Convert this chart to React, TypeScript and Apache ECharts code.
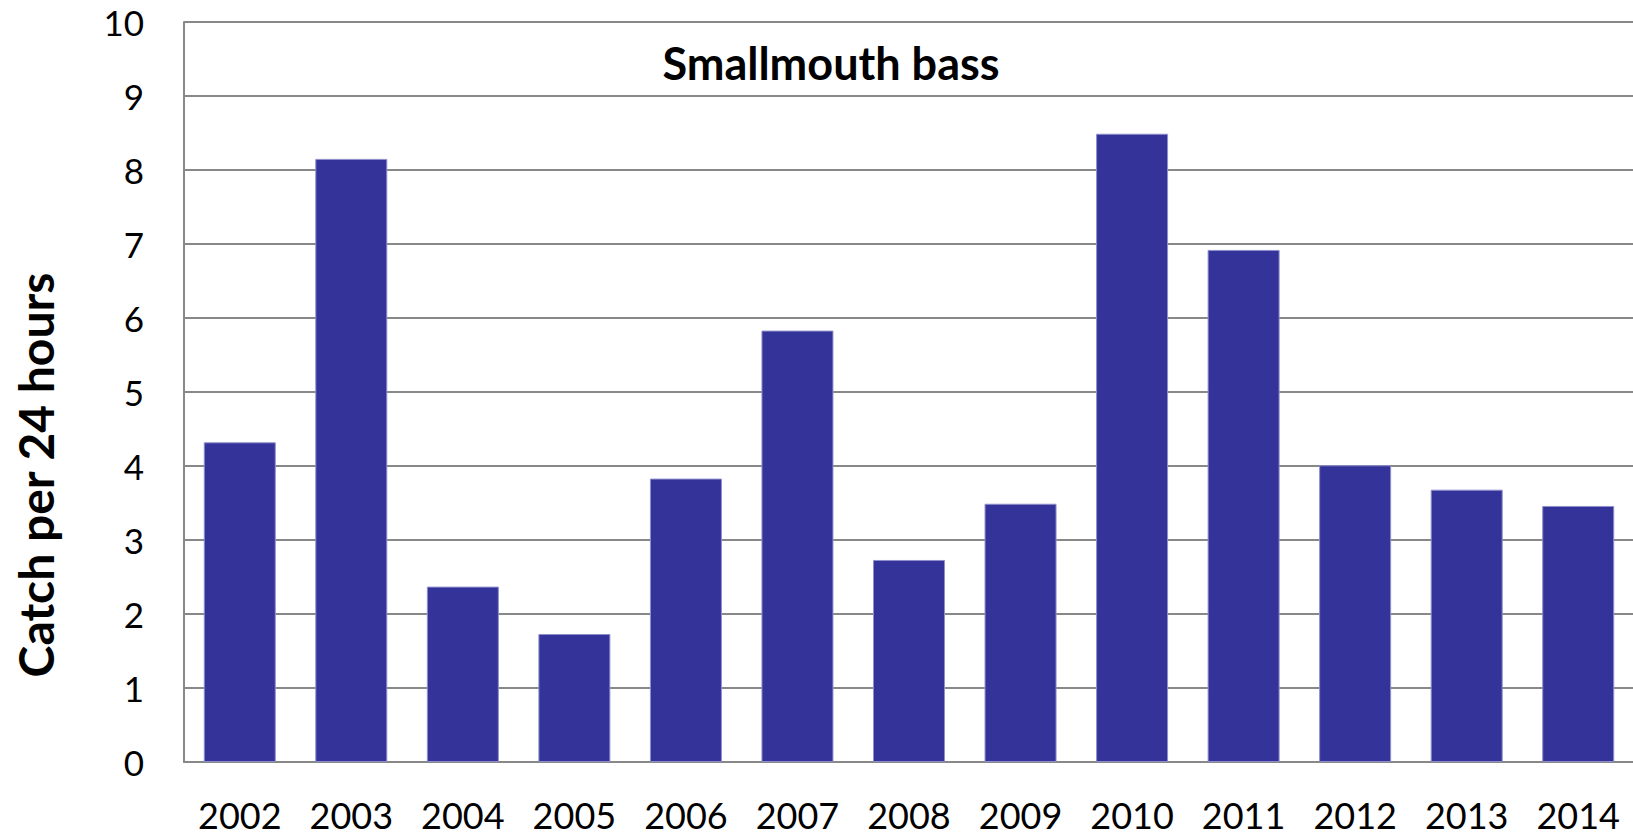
import React, { useEffect, useRef } from "react";
import * as echarts from "echarts";

const years = ["2002", "2003", "2004", "2005", "2006", "2007", "2008", "2009", "2010", "2011", "2012", "2013", "2014"];
const catchPer24h = [4.32, 8.15, 2.37, 1.73, 3.83, 5.83, 2.73, 3.49, 8.49, 6.92, 4.01, 3.68, 3.46];
const yTicks = { min: 0, max: 10, interval: 1 };
const chartTitle = "Smallmouth bass";
const yAxisTitle = "Catch per 24 hours";

const FONT = "Lato, 'Noto Sans', sans-serif";

export default function App() {
  const ref = useRef<HTMLDivElement>(null);
  useEffect(() => {
    document.body.style.margin = "0";
    const chart = echarts.init(ref.current!, null, { renderer: "svg" });
    chart.setOption({
      animation: false,
      backgroundColor: "#ffffff",
      grid: { left: 184, top: 22, width: 1450, height: 740, containLabel: false, outerBoundsMode: "none" },
      graphic: [
        {
          type: "text",
          x: 831,
          y: 62.5,
          style: {
            text: chartTitle,
            font: `bold 45px ${FONT}`,
            fill: "#000",
            textAlign: "center",
            textVerticalAlign: "middle",
          },
          z: 10,
        },
        {
          type: "text",
          x: 35,
          y: 475,
          rotation: Math.PI / 2,
          style: {
            text: yAxisTitle,
            font: `bold 48px ${FONT}`,
            fill: "#000",
            textAlign: "center",
            textVerticalAlign: "middle",
          },
          z: 10,
        },
      ],
      xAxis: {
        type: "category",
        data: years,
        axisLine: { show: true, lineStyle: { color: "#888888", width: 2 } },
        axisTick: { show: false },
        axisLabel: { color: "#000", fontFamily: FONT, fontSize: 36, lineHeight: 28, margin: 39 },
        splitLine: { show: false },
      },
      yAxis: {
        type: "value",
        min: yTicks.min,
        max: yTicks.max,
        interval: yTicks.interval,
        axisLine: { show: true, lineStyle: { color: "#888888", width: 2 } },
        axisTick: { show: false },
        axisLabel: { color: "#000", fontFamily: FONT, fontSize: 35, margin: 40 },
        splitLine: { show: true, lineStyle: { color: "#888888", width: 2 } },
      },
      series: [
        {
          type: "bar",
          data: catchPer24h,
          barWidth: 72,
          itemStyle: { color: "#333399", borderColor: "#8f8fcc", borderWidth: 1 },
        },
      ],
    });
    return () => chart.dispose();
  }, []);
  return <div ref={ref} style={{ width: 1633, height: 834 }} />;
}
